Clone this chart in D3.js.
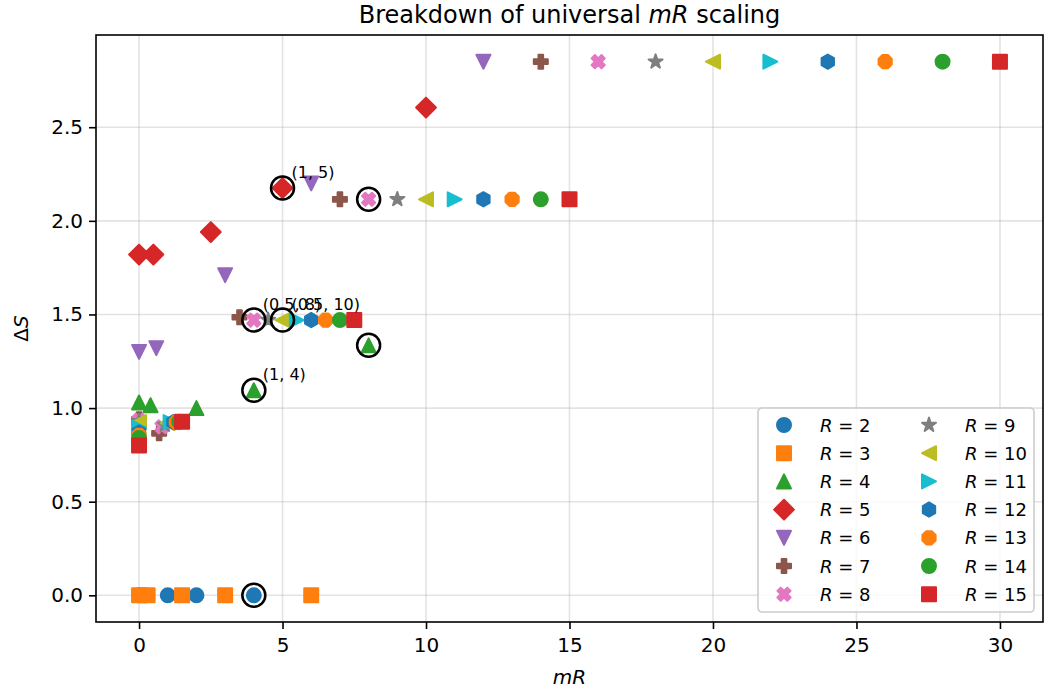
<!DOCTYPE html>
<html>
<head>
<meta charset="utf-8">
<script src="https://cdn.jsdelivr.net/npm/d3@7"></script>
<style>
  body { margin: 0; background: #fff; }
  svg { font-family: 'DejaVu Sans', sans-serif; }
</style>
</head>
<body>
<svg id="chart" width="1047" height="692"></svg>
<script>
// m values (x = m * R)
const mValues = [0, 0.1, 0.5, 1, 2];
const rValues = [2, 3, 4, 5, 6, 7, 8, 9, 10, 11, 12, 13, 14, 15];

// Delta S for each R, one entry per m
const dsR2 = [0, 0, 0, 0, 0];
const dsR3 = [0, 0, 0, 0, 0];
const dsR4 = [1.03, 1.015, 1.0, 1.095, 1.335];
const dsR5 = [1.82, 1.82, 1.94, 2.175, 2.605];
const dsR6 = [1.3, 1.32, 1.71, 2.2, 2.85];
const dsR7 = [0.94, 0.865, 1.485, 2.115, 2.85];
const dsR8 = [0.935, 0.9, 1.47, 2.115, 2.85];
const dsR9 = [0.93, 0.91, 1.47, 2.115, 2.85];
const dsR10 = [0.925, 0.92, 1.47, 2.115, 2.85];
const dsR11 = [0.895, 0.925, 1.47, 2.115, 2.85];
const dsR12 = [0.87, 0.925, 1.47, 2.115, 2.85];
const dsR13 = [0.855, 0.925, 1.47, 2.115, 2.85];
const dsR14 = [0.84, 0.927, 1.47, 2.115, 2.85];
const dsR15 = [0.8, 0.927, 1.47, 2.115, 2.85];
const deltaS = [dsR2, dsR3, dsR4, dsR5, dsR6, dsR7, dsR8, dsR9, dsR10, dsR11, dsR12, dsR13, dsR14, dsR15];

const markers = ['o', 's', '^', 'D', 'v', 'P', 'X', '*', '<', '>', 'h', '8', 'o', 's'];
const colors = ['#1f77b4', '#ff7f0e', '#2ca02c', '#d62728', '#9467bd', '#8c564b', '#e377c2',
  '#7f7f7f', '#bcbd22', '#17becf', '#1f77b4', '#ff7f0e', '#2ca02c', '#d62728'];

// highlighted (m, R) points, and which ones get a text label
const circledM = [2, 1, 2, 1, 0.5, 0.5, 1];
const circledR = [2, 4, 4, 5, 8, 10, 8];
const circledLabel = [false, true, false, true, true, true, false];

const xTicks = [0, 5, 10, 15, 20, 25, 30];
const yTicks = [0, 0.5, 1.0, 1.5, 2.0, 2.5];

const width = 1047;
const height = 692;
const margin = { left: 96, right: 4, top: 35, bottom: 70 };

var svg = d3.select('#chart');

var x = d3.scaleLinear().domain([-1.5, 31.5]).range([margin.left, width - margin.right]);
var y = d3.scaleLinear().domain([-0.1425, 2.9925]).range([height - margin.bottom, margin.top]);

function poly(pts) {
  return 'M' + pts.map(function (p) { return p[0].toFixed(2) + ',' + p[1].toFixed(2); }).join('L') + 'Z';
}

function regular(n, r, startDeg) {
  var pts = [];
  for (var k = 0; k < n; k++) {
    var a = (startDeg + k * 360 / n) * Math.PI / 180;
    pts.push([r * Math.cos(a), r * Math.sin(a)]);
  }
  return pts;
}

function plusPts(r, rot) {
  var s = r / 3;
  var base = [[-1, -3], [1, -3], [1, -1], [3, -1], [3, 1], [1, 1], [1, 3], [-1, 3], [-1, 1], [-3, 1], [-3, -1], [-1, -1]];
  var c = Math.cos(rot), sn = Math.sin(rot);
  return base.map(function (p) {
    return [(p[0] * c - p[1] * sn) * s, (p[0] * sn + p[1] * c) * s];
  });
}

// marker shape paths, loosely after matplotlib's marker set
function markerPath(type, r) {
  switch (type) {
    case 'o':
      return 'M' + r + ',0A' + r + ',' + r + ',0,1,1,' + (-r) + ',0A' + r + ',' + r + ',0,1,1,' + r + ',0Z';
    case 's':
      return poly([[-r, -r], [r, -r], [r, r], [-r, r]]);
    case '^':
      return poly([[0, -r], [r, r], [-r, r]]);
    case 'v':
      return poly([[0, r], [r, -r], [-r, -r]]);
    case '<':
      return poly([[-r, 0], [r, -r], [r, r]]);
    case '>':
      return poly([[r, 0], [-r, -r], [-r, r]]);
    case 'D':
      var d = r * Math.SQRT2;
      return poly([[0, -d], [d, 0], [0, d], [-d, 0]]);
    case 'P':
      return poly(plusPts(r, 0));
    case 'X':
      return poly(plusPts(r, Math.PI / 4));
    case '*':
      var pts = [];
      for (var k = 0; k < 10; k++) {
        var rr = k % 2 === 0 ? r * 1.05 : r * 1.05 * 0.381966;
        var a = (-90 + k * 36) * Math.PI / 180;
        pts.push([rr * Math.cos(a), rr * Math.sin(a)]);
      }
      return poly(pts);
    case 'h':
      return poly(regular(6, r * 1.02, -90));
    case '8':
      return poly(regular(8, r * 1.02, 22.5));
  }
}

var plot = svg.append('g');

// grid
plot.append('g')
  .selectAll('line.gx')
  .data(xTicks)
  .enter()
  .append('line')
  .attr('x1', function (d) { return x(d); })
  .attr('x2', function (d) { return x(d); })
  .attr('y1', y.range()[1])
  .attr('y2', y.range()[0])
  .attr('stroke', '#b0b0b0')
  .attr('stroke-opacity', 0.35)
  .attr('stroke-width', 1.6);

plot.append('g')
  .selectAll('line.gy')
  .data(yTicks)
  .enter()
  .append('line')
  .attr('y1', function (d) { return y(d); })
  .attr('y2', function (d) { return y(d); })
  .attr('x1', x.range()[0])
  .attr('x2', x.range()[1])
  .attr('stroke', '#b0b0b0')
  .attr('stroke-opacity', 0.35)
  .attr('stroke-width', 1.6);

// points
var points = [];
rValues.forEach(function (R, i) {
  mValues.forEach(function (m, j) {
    points.push({ R: R, m: m, ds: deltaS[i][j], marker: markers[i], color: colors[i] });
  });
});

var markerR = 7;

plot.append('g')
  .selectAll('path')
  .data(points)
  .enter()
  .append('path')
  .attr('d', function (d) { return markerPath(d.marker, markerR); })
  .attr('transform', function (d) { return 'translate(' + x(d.m * d.R) + ',' + y(d.ds) + ')'; })
  .attr('fill', function (d) { return d.color; })
  .attr('stroke', function (d) { return d.color; })
  .attr('stroke-width', 2)
  .attr('stroke-linejoin', 'round');

// circled points
var circled = circledM.map(function (m, k) {
  var i = rValues.indexOf(circledR[k]);
  var j = mValues.indexOf(m);
  return { m: m, R: circledR[k], ds: deltaS[i][j], label: circledLabel[k] };
});

plot.append('g')
  .selectAll('circle')
  .data(circled)
  .enter()
  .append('circle')
  .attr('cx', function (d) { return x(d.m * d.R); })
  .attr('cy', function (d) { return y(d.ds); })
  .attr('r', 11.5)
  .attr('fill', 'none')
  .attr('stroke', '#000')
  .attr('stroke-width', 2.5);

plot.append('g')
  .selectAll('text')
  .data(circled.filter(function (d) { return d.label; }))
  .enter()
  .append('text')
  .attr('x', function (d) { return x(d.m * d.R) + 9; })
  .attr('y', function (d) { return y(d.ds) - 10; })
  .style('font-size', '16px')
  .text(function (d) { return '(' + d.m + ', ' + d.R + ')'; });

// axes
var xAxis = d3.axisBottom(x).tickValues(xTicks).tickSize(7).tickSizeOuter(0).tickPadding(9)
  .tickFormat(d3.format('d'));
var yAxis = d3.axisLeft(y).tickValues(yTicks).tickSize(7).tickSizeOuter(0).tickPadding(6)
  .tickFormat(d3.format('.1f'));

var gx = svg.append('g').attr('transform', 'translate(0,' + y.range()[0] + ')').call(xAxis);
var gy = svg.append('g').attr('transform', 'translate(' + x.range()[0] + ',0)').call(yAxis);
[gx, gy].forEach(function (g) {
  g.select('.domain').remove();
  g.selectAll('.tick line').attr('stroke', '#000').attr('stroke-width', 1.6);
  g.selectAll('.tick text').attr('fill', '#000').style('font-size', '20px')
    .style('font-family', 'DejaVu Sans');
});

svg.append('rect')
  .attr('x', x.range()[0])
  .attr('y', y.range()[1])
  .attr('width', x.range()[1] - x.range()[0])
  .attr('height', y.range()[0] - y.range()[1])
  .attr('fill', 'none')
  .attr('stroke', '#000')
  .attr('stroke-width', 1.6);

// title and axis labels
var title = svg.append('text')
  .attr('x', (x.range()[0] + x.range()[1]) / 2)
  .attr('y', 23)
  .attr('text-anchor', 'middle')
  .style('font-size', '24px');
title.append('tspan').text('Breakdown of universal ');
title.append('tspan').style('font-style', 'italic').text('mR');
title.append('tspan').text(' scaling');

svg.append('text')
  .attr('x', (x.range()[0] + x.range()[1]) / 2)
  .attr('y', 684)
  .attr('text-anchor', 'middle')
  .style('font-size', '20px')
  .style('font-style', 'italic')
  .text('mR');

var ylab = svg.append('text')
  .attr('transform', 'translate(28,' + ((y.range()[0] + y.range()[1]) / 2) + ') rotate(-90)')
  .attr('text-anchor', 'middle')
  .style('font-size', '20px');
ylab.append('tspan').text('Δ');
ylab.append('tspan').style('font-style', 'italic').text('S');

// legend
var legend = svg.append('g').attr('transform', 'translate(758,408)');
legend.append('rect')
  .attr('width', 276)
  .attr('height', 204)
  .attr('rx', 4)
  .attr('fill', '#fff')
  .attr('fill-opacity', 0.8)
  .attr('stroke', '#cccccc')
  .attr('stroke-width', 1.6);

var items = legend.selectAll('g.item')
  .data(rValues)
  .enter()
  .append('g')
  .attr('transform', function (d, i) {
    var col = Math.floor(i / 7), row = i % 7;
    return 'translate(' + (col * 145) + ',' + (17 + row * 28.2) + ')';
  });

items.append('path')
  .attr('transform', 'translate(26,0)')
  .attr('d', function (d, i) { return markerPath(markers[i], markerR); })
  .attr('fill', function (d, i) { return colors[i]; })
  .attr('stroke', function (d, i) { return colors[i]; })
  .attr('stroke-width', 2)
  .attr('stroke-linejoin', 'round');

var lt = items.append('text')
  .attr('x', 62)
  .attr('y', 6.5)
  .style('font-size', '18px');
lt.append('tspan').style('font-style', 'italic').text('R');
lt.append('tspan').text(function (d) { return ' = ' + d; });
</script>
</body>
</html>
